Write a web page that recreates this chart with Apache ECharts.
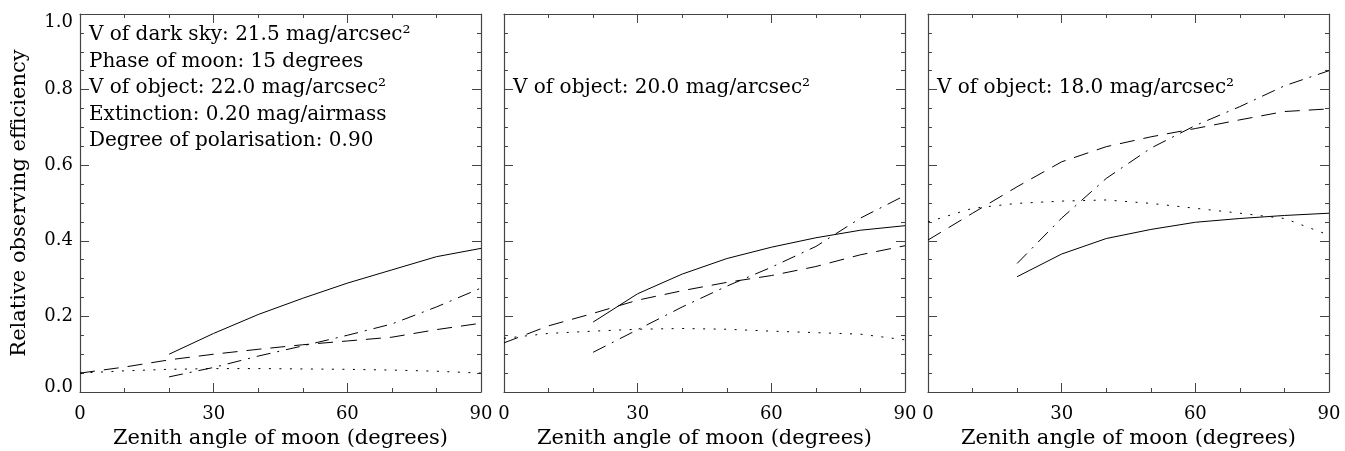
<!DOCTYPE html>
<html>
<head>
<meta charset="utf-8">
<title>Relative observing efficiency</title>
<script src="https://cdn.jsdelivr.net/npm/echarts@6/dist/echarts.min.js"></script>
<style>
  html, body { margin: 0; padding: 0; background: #fff; }
  #chart { width: 1345px; height: 451px; }
</style>
</head>
<body>
<div id="chart"></div>
<script>
  // zenith angle of moon (degrees)
  var angles = [0, 10, 20, 30, 40, 50, 60, 70, 80, 90]
  var xTicks = [0, 30, 60, 90]
  var yTicks = [0.0, 0.2, 0.4, 0.6, 0.8, 1.0]

  // panel 1: V of object 22.0
  var solidA = [null, null, 0.10, 0.155, 0.205, 0.248, 0.288, 0.323, 0.358, 0.38]
  var dashA = [0.05, 0.066, 0.085, 0.1, 0.113, 0.125, 0.135, 0.145, 0.165, 0.182]
  var dashDotA = [null, null, 0.04, 0.065, 0.095, 0.122, 0.15, 0.18, 0.225, 0.275]
  var dotA = [0.05, 0.056, 0.06, 0.062, 0.062, 0.061, 0.06, 0.058, 0.055, 0.05]

  // panel 2: V of object 20.0
  var solidB = [null, null, 0.185, 0.26, 0.312, 0.353, 0.383, 0.408, 0.428, 0.44]
  var dashB = [0.13, 0.175, 0.208, 0.243, 0.268, 0.29, 0.308, 0.332, 0.363, 0.387]
  var dashDotB = [null, null, 0.105, 0.165, 0.225, 0.28, 0.33, 0.385, 0.46, 0.52]
  var dotB = [0.142, 0.155, 0.161, 0.166, 0.168, 0.166, 0.161, 0.157, 0.153, 0.138]

  // panel 3: V of object 18.0
  var solidC = [null, null, 0.305, 0.365, 0.406, 0.43, 0.449, 0.459, 0.467, 0.473]
  var dashC = [0.402, 0.473, 0.543, 0.609, 0.649, 0.675, 0.697, 0.72, 0.742, 0.749]
  var dashDotC = [null, null, 0.34, 0.46, 0.565, 0.645, 0.705, 0.755, 0.81, 0.85]
  var dotC = [0.45, 0.486, 0.499, 0.505, 0.508, 0.499, 0.486, 0.473, 0.459, 0.415]

  var panels = [
    { solid: solidA, dash: dashA, dashDot: dashDotA, dot: dotA },
    { solid: solidB, dash: dashB, dashDot: dashDotB, dot: dotB },
    { solid: solidC, dash: dashC, dashDot: dashDotC, dot: dotC }
  ]

  var notes = [
    ['V of dark sky: 21.5 mag/arcsec\u00b2', 'Phase of moon: 15 degrees', 'V of object: 22.0 mag/arcsec\u00b2',
      'Extinction: 0.20 mag/airmass', 'Degree of polarisation: 0.90'],
    [null, null, 'V of object: 20.0 mag/arcsec\u00b2'],
    [null, null, 'V of object: 18.0 mag/arcsec\u00b2']
  ]

  var SERIF = '"DejaVu Serif", "Liberation Serif", serif'
  var axisColor = '#444'
  var gridLeft = [80, 504, 928]
  var gridTop = 14
  var gridW = 401
  var gridH = 378

  function pairs(values) {
    var out = []
    for (var i = 0; i < angles.length; i++) {
      if (values[i] !== null) out.push([angles[i], values[i]])
    }
    return out
  }

  function tickStyle(show, split) {
    return {
      axisLine: { show: true, onZero: false, lineStyle: { color: axisColor, width: 1.2 } },
      axisTick: { show: true, inside: true, length: 9, lineStyle: { color: axisColor } },
      minorTick: { show: true, splitNumber: split, length: 4, lineStyle: { color: axisColor } },
      splitLine: { show: false },
      axisLabel: { show: show }
    }
  }

  var grid = [], xAxis = [], yAxis = [], series = []

  panels.forEach(function (p, i) {
    grid.push({ left: gridLeft[i], top: gridTop, width: gridW, height: gridH, outerBoundsMode: 'none' })

    xAxis.push(Object.assign(tickStyle(true, 3), {
      type: 'value', gridIndex: i, position: 'bottom', min: xTicks[0], max: xTicks[xTicks.length - 1], interval: 30,
      name: 'Zenith angle of moon (degrees)', nameLocation: 'middle', nameGap: 35,
      nameTextStyle: { fontFamily: SERIF, fontSize: 21, color: '#000' },
      axisLabel: { show: true, margin: 13, fontFamily: SERIF, fontSize: 18, color: '#000' }
    }))
    xAxis.push(Object.assign(tickStyle(false, 3), {
      type: 'value', gridIndex: i, position: 'top', min: 0, max: 90, interval: 30
    }))

    var left = Object.assign(tickStyle(i === 0, 4), {
      type: 'value', gridIndex: i, position: 'left', min: yTicks[0], max: yTicks[yTicks.length - 1], interval: 0.2
    })
    if (i === 0) {
      // the end labels sit a little inside the frame, as in the original plot
      left.axisLabel = {
        show: true, margin: 7, fontFamily: SERIF, fontSize: 18, color: '#000',
        formatter: function (v) {
          var s = v.toFixed(1)
          if (v === yTicks[yTicks.length - 1]) return '{top|' + s + '}'
          if (v === yTicks[0]) return '{bot|' + s + '}'
          return s
        },
        rich: {
          top: { fontFamily: SERIF, fontSize: 18, color: '#000', padding: [17, 0, 0, 0] },
          bot: { fontFamily: SERIF, fontSize: 18, color: '#000', padding: [0, 0, 10, 0] }
        }
      }
      left.name = 'Relative observing efficiency'
      left.nameLocation = 'middle'
      left.nameGap = 50
      left.nameTextStyle = { fontFamily: SERIF, fontSize: 21, color: '#000' }
    }
    yAxis.push(left)
    yAxis.push(Object.assign(tickStyle(false, 4), {
      type: 'value', gridIndex: i, position: 'right', min: 0, max: 1, interval: 0.2
    }))

    var styles = [
      ['solid', 'solid'],
      ['dash', [15, 9]],
      ['dashDot', [14, 7, 2, 7]],
      ['dot', [2, 8.5]]
    ]
    styles.forEach(function (s) {
      series.push({
        type: 'line', xAxisIndex: i * 2, yAxisIndex: i * 2, data: pairs(p[s[0]]),
        symbol: 'none', silent: true, smooth: false,
        lineStyle: { color: '#000', width: 1, type: s[1] }
      })
    })
  })

  var graphic = []
  notes.forEach(function (lines, i) {
    lines.forEach(function (t, j) {
      if (!t) return
      graphic.push({
        type: 'text', x: gridLeft[i] + 9, y: 35 + j * 26.5,
        style: { text: t, font: '20px ' + SERIF, fill: '#000', verticalAlign: 'middle' }
      })
    })
  })

  var chart = echarts.init(document.getElementById('chart'))
  chart.setOption({
    animation: false,
    grid: grid,
    xAxis: xAxis,
    yAxis: yAxis,
    series: series,
    graphic: graphic
  })
</script>
</body>
</html>
